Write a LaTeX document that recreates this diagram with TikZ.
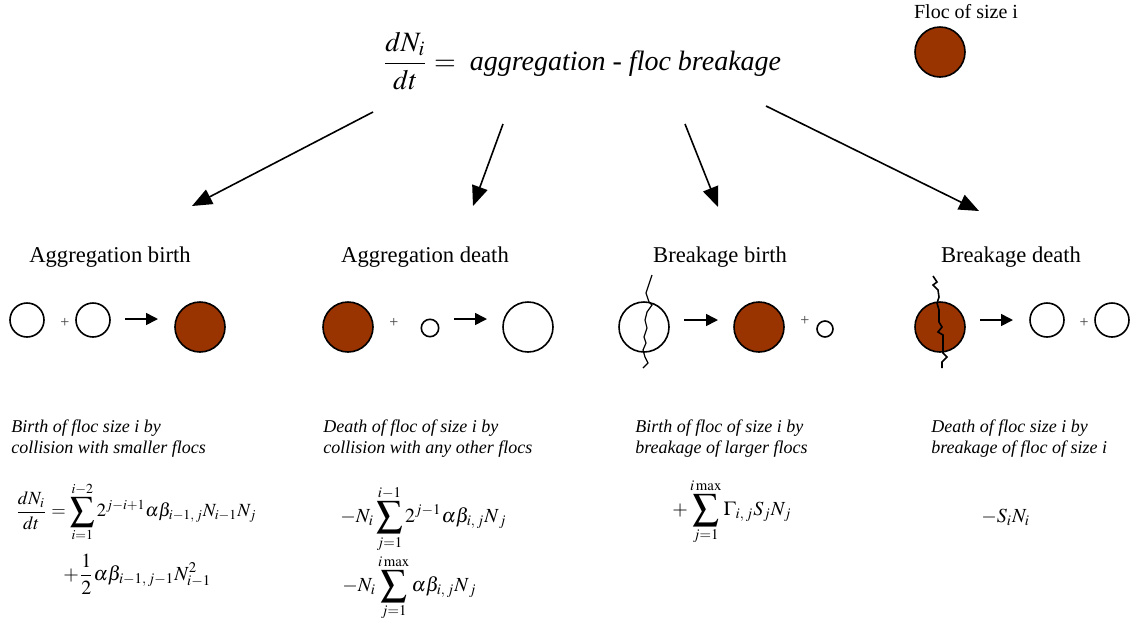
\documentclass[tikz,border=0pt]{standalone}
\usepackage{amsmath}
\usepackage{mathptmx}
\usepackage[no-math]{fontspec}
\setmainfont{Liberation Serif}
\usepackage{tikz}
\usetikzlibrary{arrows.meta,positioning}
\definecolor{flocred}{RGB}{153,51,0}
\newcommand{\Sum}{\mathop{\vcenter{\hbox{\scalebox{1.3}{$\displaystyle\sum$}}}}\limits}

\begin{document}
\begin{tikzpicture}[
  x=0.5pt, y=-0.5pt,
  floc/.style={draw, line width=0.8pt, circle, inner sep=0pt, minimum size=#1},
  bigfloc/.style={floc=25pt, fill=flocred},
  heading/.style={font=\fontsize{11.3}{13}\selectfont},
  note/.style={font=\fontsize{9}{10.5}\selectfont\itshape, align=left, anchor=north west, inner sep=0pt},
  plus/.style={font=\fontsize{8}{9}\selectfont, text=black!75},
  rate/.style={font=\fontsize{10}{12}\selectfont, anchor=west, inner sep=0pt},
  branch/.style={line width=0.8pt, -{Triangle[length=10pt, width=8pt]}},
  react/.style={line width=0.8pt, -{Triangle[length=6pt, width=6pt]}},
  crack/.style={line width=0.6pt},
]
\useasboundingbox (0,0) rectangle (1130,617);

% Balance equation
\node[font=\fontsize{14}{17}\selectfont] (balance) at (582,61)
  {$\dfrac{dN_i}{dt} =$\enspace\textit{aggregation - floc breakage}};
\node[font=\fontsize{10}{12}\selectfont] (legend) at (966,12) {Floc of size i};
\node[bigfloc] (flocI) at (940,52) {};

% Branch ends
\coordinate (b1s) at (373,112);  \coordinate (b1e) at (192,206);
\coordinate (b2s) at (503,124);  \coordinate (b2e) at (473,206);
\coordinate (b3s) at (685,124);  \coordinate (b3e) at (718,207);
\coordinate (b4s) at (766,106);  \coordinate (b4e) at (979,211);
\draw[branch] (b1s) -- (b1e);
\draw[branch] (b2s) -- (b2e);
\draw[branch] (b3s) -- (b3e);
\draw[branch] (b4s) -- (b4e);

% Headings
\node[heading] (aggB) at (110,257) {Aggregation birth};
\node[heading] (aggD) at (425,257) {Aggregation death};
\node[heading] (brkB) at (720,257) {Breakage birth};
\node[heading] (brkD) at (1011,257) {Breakage death};

% Aggregation birth
\node[floc=17pt] (ab1) at (27,320) {};
\node[plus] (abp) at (65,323) {+};
\node[floc=17pt] (ab2) at (93,320) {};
\coordinate (aba) at (125,319); \coordinate (abb) at (158,319);
\draw[react] (aba) -- (abb);
\node[bigfloc] (ab3) at (200,327) {};

% Aggregation death
\node[bigfloc] (ad1) at (348,327) {};
\node[plus] (adp) at (394,323) {+};
\node[floc=8.7pt] (ad2) at (430,328) {};
\coordinate (ada) at (454,319); \coordinate (adb) at (487,319);
\draw[react] (ada) -- (adb);
\node[floc=25pt] (ad3) at (528,327) {};

% Breakage birth
\node[floc=25pt] (bb1) at (644,327) {};
\draw[crack] (652,275) -- (648,287) -- (646,293) -- (649,302) -- (652,305) -- (647,312)
  -- (645,320) -- (647,328) -- (644,337) -- (646,343) -- (643,350) -- (645,357)
  -- (648,363) -- (643,368);
\coordinate (bba) at (684,320); \coordinate (bbb) at (718,320);
\draw[react] (bba) -- (bbb);
\node[bigfloc] (bb2) at (759,327) {};
\node[plus] (bbp) at (805,321) {+};
\node[floc=8pt] (bb3) at (825,329) {};

% Breakage death
\node[bigfloc] (bd1) at (940,327) {};
\draw[crack, line width=0.8pt] (933,276) -- (937,282) -- (933,285) -- (938,290) -- (939,297)
  -- (937,303) -- (939,310) -- (939,322) -- (942,327) -- (938,332) -- (943,335)
  -- (943,343) -- (943,353) -- (947,357) -- (942,362) -- (942,368);
\coordinate (bda) at (980,320); \coordinate (bdb) at (1013,320);
\draw[react] (bda) -- (bdb);
\node[floc=17pt] (bd2) at (1047,320) {};
\node[plus] (bdp) at (1084,323) {+};
\node[floc=17pt] (bd3) at (1112,320) {};

% Descriptions
\node[note] (nAB) at (11,419) {Birth of floc size i by\\collision with smaller flocs};
\node[note] (nAD) at (323,419) {Death of floc of size i by\\collision with any other flocs};
\node[note] (nBB) at (635,419) {Birth of floc of size i by\\breakage of larger flocs};
\node[note] (nBD) at (931,419) {Death of floc size i by\\breakage of floc of size i};

% Rate terms
\node[rate, font=\fontsize{9.3}{11}\selectfont] (eAB1) at (15,512)
  {$\displaystyle\frac{dN_i}{dt} = \Sum_{i=1}^{i-2} 2^{j-i+1}\alpha\beta_{i-1,\,j} N_{i-1} N_j$};
\node[rate] (eAB2) at (63,574)
  {$\displaystyle+\frac{1}{2}\alpha\beta_{i-1,\,j-1} N_{i-1}^2$};
\node[rate] (eAD1) at (340,519)
  {$\displaystyle-N_i \Sum_{j=1}^{i-1} 2^{j-1}\alpha\beta_{i,\,j} N_{\,j}$};
\node[rate] (eAD2) at (342,588)
  {$\displaystyle-N_i \Sum_{j=1}^{i\,\mathrm{max}} \alpha\beta_{i,\,j} N_{\,j}$};
\node[rate] (eBB) at (672,512)
  {$\displaystyle+\Sum_{j=1}^{i\,\mathrm{max}} \Gamma_{i,\,j} S_j N_j$};
\node[rate] (eBD) at (981,517)
  {$\displaystyle-S_i N_i$};
\end{tikzpicture}
\end{document}
